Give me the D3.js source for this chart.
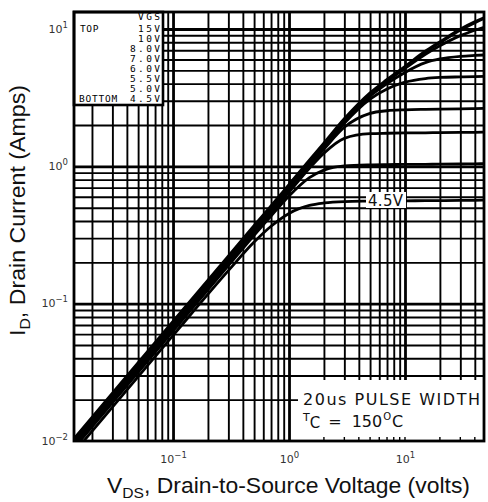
<!DOCTYPE html>
<html><head><meta charset="utf-8">
<script src="https://cdn.jsdelivr.net/npm/d3@7"></script>
<style>body{margin:0;background:#fff}svg{display:block}</style>
</head><body><svg id="c" width="488" height="502"></svg>
<script>
// ---- data ----
const vds   = [0.014, 0.1, 0.3, 0.5, 0.7, 1, 1.5, 2, 3, 5, 7, 10, 15, 20, 30, 40, 48];
const id15V = [0.0103, 0.0735, 0.22, 0.367, 0.51, 0.73, 1.1, 1.46, 2.2, 3.4, 4.25, 5.3, 6.85, 8.0, 9.9, 11.2, 12.0];
const id10V = [0.0101, 0.072, 0.2156, 0.36, 0.5, 0.715, 1.078, 1.43, 2.156, 3.33, 4.16, 5.17, 6.55, 7.55, 8.95, 9.8, 10.3];
const id8V  = [0.00989, 0.0706, 0.211, 0.352, 0.49, 0.70, 1.055, 1.40, 2.10, 3.24, 4.00, 4.83, 5.69, 6.05, 6.32, 6.42, 6.47];
const id7V  = [0.00968, 0.0691, 0.2068, 0.345, 0.479, 0.686, 1.033, 1.37, 2.06, 3.09, 3.66, 4.10, 4.36, 4.44, 4.48, 4.50, 4.52];
const id6V  = [0.00948, 0.0676, 0.2024, 0.3376, 0.469, 0.671, 1.01, 1.333, 1.925, 2.43, 2.54, 2.58, 2.60, 2.61, 2.62, 2.63, 2.64];
const id55V = [0.00917, 0.0654, 0.196, 0.3266, 0.454, 0.649, 0.969, 1.247, 1.599, 1.729, 1.742, 1.75, 1.755, 1.76, 1.765, 1.77, 1.775];
const id5V  = [0.00886, 0.0632, 0.189, 0.315, 0.435, 0.608, 0.827, 0.938, 1.008, 1.026, 1.03, 1.032, 1.035, 1.037, 1.04, 1.043, 1.045];
const id45V = [0.00824, 0.0588, 0.174, 0.281, 0.366, 0.454, 0.519, 0.541, 0.554, 0.558, 0.56, 0.561, 0.562, 0.563, 0.565, 0.566, 0.567];
const gateLabels = ["15V", "10V", "8.0V", "7.0V", "6.0V", "5.5V", "5.0V", "4.5V"];
const xTickExps = [-1, 0, 1];
const yTickExps = [-2, -1, 0, 1];
const xDomain = [0.014, 48];
const yDomain = [0.01, 13.3];

// ---- layout ----
const L = 74, R = 484, T = 12, B = 441;
const svg = d3.select("#c");
const x = d3.scaleLog().domain(xDomain).range([L, R]);
const y = d3.scaleLog().domain(yDomain).range([B, T]);

const xGridVals = [], yGridVals = [];
for (let e = -2; e <= 1; e++) for (let k = 1; k <= 9; k++) {
  const v = +(k * Math.pow(10, e)).toPrecision(3);
  if (v > xDomain[0] * 1.001 && v < xDomain[1]) xGridVals.push(v);
  if (v > yDomain[0] * 1.001 && v < yDomain[1]) yGridVals.push(v);
}
const isMajor = v => Math.abs(Math.log10(v) - Math.round(Math.log10(v))) < 1e-6;

const gx = svg.append("g").attr("transform", `translate(0,${B})`)
  .call(d3.axisBottom(x).tickValues(xGridVals).tickSize(-(B - T)).tickFormat(""));
gx.select(".domain").remove();
gx.selectAll(".tick line").attr("stroke", "#000")
  .attr("stroke-width", d => isMajor(d) ? 2.8 : 1.9);

const gy = svg.append("g").attr("transform", `translate(${L},0)`)
  .call(d3.axisLeft(y).tickValues(yGridVals).tickSize(-(R - L)).tickFormat(""));
gy.select(".domain").remove();
gy.selectAll(".tick line").attr("stroke", "#000")
  .attr("stroke-width", d => isMajor(d) ? 2.8 : 1.9);

// curves
svg.append("clipPath").attr("id", "clip").append("rect")
  .attr("x", L).attr("y", T).attr("width", R - L).attr("height", B - T);
const series = [id15V, id10V, id8V, id7V, id6V, id55V, id5V, id45V];
const line = d3.line().x(d => x(d[0])).y(d => y(d[1])).curve(d3.curveMonotoneX);
svg.append("g").attr("clip-path", "url(#clip)")
  .selectAll("path").data(series).join("path")
  .attr("d", s => line(vds.map((v, i) => [v, s[i]])))
  .attr("fill", "none").attr("stroke", "#000")
  .attr("stroke-width", (s, i) => i === 0 ? 3.6 : 2.8)
  .attr("stroke-linejoin", "round");

// bottom-right annotation box
const ab = svg.append("g");
ab.append("rect").attr("x", 298).attr("y", 380).attr("width", R - 298).attr("height", B - 380).attr("fill", "#fff");
ab.selectAll("line.bt").data(xGridVals.filter(v => x(v) > 300)).join("line")
  .attr("x1", d => x(d)).attr("x2", d => x(d)).attr("y1", B).attr("y2", B - 4)
  .attr("stroke", "#000").attr("stroke-width", 1.4);
ab.append("text").attr("x", 303).attr("y", 405)
  .attr("font-family", "DejaVu Sans").attr("font-size", 16).attr("fill", "#111")
  .attr("textLength", 177).attr("lengthAdjust", "spacing")
  .text("20us PULSE WIDTH");
const tc = ab.append("text").attr("x", 303).attr("y", 421)
  .attr("font-family", "DejaVu Sans").attr("fill", "#111");
tc.append("tspan").attr("font-size", 11).text("T");
tc.append("tspan").attr("font-size", 15).attr("dy", 7).text("C");
tc.append("tspan").attr("font-size", 16).attr("dy", -1).attr("dx", 8).text("=");
tc.append("tspan").attr("font-size", 16).attr("dx", 10).text("150");
tc.append("tspan").attr("font-size", 10).attr("dy", -7).attr("dx", 1).text("O");
tc.append("tspan").attr("font-size", 16).attr("dy", 7).attr("dx", 1).text("C");

// 4.5V curve label
svg.append("rect").attr("x", 366).attr("y", 192).attr("width", 40).attr("height", 16).attr("fill", "#fff");
svg.append("text").attr("x", 368).attr("y", 206)
  .attr("font-family", "DejaVu Sans").attr("font-size", 15).attr("fill", "#111")
  .attr("textLength", 35).attr("lengthAdjust", "spacing").text(gateLabels[7]);

// legend box
const lg = svg.append("g");
lg.append("rect").attr("x", L).attr("y", T).attr("width", 163 - L).attr("height", 105 - T)
  .attr("fill", "#fff").attr("stroke", "#000").attr("stroke-width", 2.6);
const lgFont = g => g.attr("font-family", "DejaVu Sans Mono").attr("font-size", 9.5)
  .attr("fill", "#000").attr("letter-spacing", 2.4);
const lgRight = 160;
const rightAlign = sel => sel.each(function() {
  const w = this.getBBox().width;
  d3.select(this).attr("x", lgRight - w + 2.4);
});
lg.append("text").call(lgFont).attr("x", 0).attr("y", 19.5).text("VGS").call(rightAlign);
lg.selectAll("text.row").data(gateLabels).join("text").attr("class", "row").call(lgFont)
  .attr("x", 0).attr("y", (d, i) => 31.5 + i * 10.1).text(d => d).call(rightAlign);
lg.append("text").call(lgFont).attr("letter-spacing", 0.6).attr("x", 80).attr("y", 31.5).text("TOP");
lg.append("text").call(lgFont).attr("letter-spacing", 0.8).attr("x", 79).attr("y", 102).text("BOTTOM");

// plot border
svg.append("rect").attr("x", L).attr("y", T).attr("width", R - L).attr("height", B - T)
  .attr("fill", "none").attr("stroke", "#000").attr("stroke-width", 2.8);

// tick labels via axes
const lblFont = "DejaVu Sans";
const expText = d => { const e = Math.round(Math.log10(d)); return e < 0 ? "\u2212" + (-e) : String(e); };
const xa = svg.append("g").attr("transform", `translate(0,${B})`)
  .call(d3.axisBottom(x).tickValues(xTickExps.map(e => Math.pow(10, e))).tickSize(0).tickPadding(0));
xa.select(".domain").remove();
xa.selectAll(".tick text").each(function(d) {
  const t = d3.select(this).text("").attr("y", 22).attr("dy", null)
    .attr("font-family", lblFont).attr("font-size", 11).attr("fill", "#333");
  t.append("tspan").text("10");
  t.append("tspan").attr("font-size", 8.5).attr("dy", -5).text(expText(d));
});
const ya = svg.append("g").attr("transform", `translate(${L},0)`)
  .call(d3.axisLeft(y).tickValues(yTickExps.map(e => Math.pow(10, e))).tickSize(0).tickPadding(6));
ya.select(".domain").remove();
ya.selectAll(".tick text").each(function(d) {
  const t = d3.select(this).text("").attr("dy", "0.3em")
    .attr("font-family", lblFont).attr("font-size", 11).attr("fill", "#333");
  t.append("tspan").text("10");
  t.append("tspan").attr("font-size", 8.5).attr("dy", -5).text(expText(d));
});

// axis titles
const xt = svg.append("text").attr("x", 107).attr("y", 493)
  .attr("font-family", "Liberation Sans, Arial, sans-serif").attr("font-size", 22).attr("fill", "#111")
  .attr("textLength", 363).attr("lengthAdjust", "spacingAndGlyphs");
xt.append("tspan").text("V");
xt.append("tspan").attr("font-size", 15).attr("dy", 5).text("DS");
xt.append("tspan").attr("dy", -5).text(", Drain-to-Source Voltage (volts)");

const yt = svg.append("text").attr("transform", "translate(25,336) rotate(-90)")
  .attr("font-family", "Liberation Sans, Arial, sans-serif").attr("font-size", 22).attr("fill", "#111")
  .attr("textLength", 251).attr("lengthAdjust", "spacingAndGlyphs");
yt.append("tspan").text("I");
yt.append("tspan").attr("font-size", 15).attr("dy", 5).text("D");
yt.append("tspan").attr("dy", -5).text(", Drain Current (Amps)");
</script></body></html>
